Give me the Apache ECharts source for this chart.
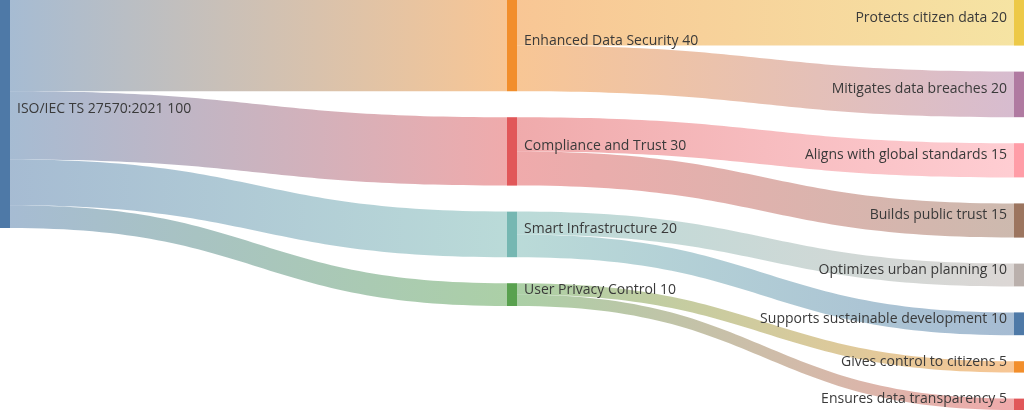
<!DOCTYPE html>
<html>
<head>
<meta charset="utf-8">
<script src="https://cdn.jsdelivr.net/npm/echarts@6/dist/echarts.min.js"></script>
<style>html,body{margin:0;padding:0;background:#fff;}#chart{width:1024px;height:410px;}</style>
</head>
<body>
<div id="chart"></div>
<script>
const nodeNames = [
  "ISO/IEC TS 27570:2021",
  "Enhanced Data Security",
  "Compliance and Trust",
  "Smart Infrastructure",
  "User Privacy Control",
  "Protects citizen data",
  "Mitigates data breaches",
  "Aligns with global standards",
  "Builds public trust",
  "Optimizes urban planning",
  "Supports sustainable development",
  "Gives control to citizens",
  "Ensures data transparency"
];
const nodeColors = ["#4e79a7","#f28e2b","#e15759","#76b7b2","#59a14f","#edc948","#b07aa1","#ff9da7","#9c755f","#bab0ac","#4e79a7","#f28e2b","#e15759"];
const linkSources = ["ISO/IEC TS 27570:2021","ISO/IEC TS 27570:2021","ISO/IEC TS 27570:2021","ISO/IEC TS 27570:2021",
  "Enhanced Data Security","Enhanced Data Security","Compliance and Trust","Compliance and Trust",
  "Smart Infrastructure","Smart Infrastructure","User Privacy Control","User Privacy Control"];
const linkTargets = ["Enhanced Data Security","Compliance and Trust","Smart Infrastructure","User Privacy Control",
  "Protects citizen data","Mitigates data breaches","Aligns with global standards","Builds public trust",
  "Optimizes urban planning","Supports sustainable development","Gives control to citizens","Ensures data transparency"];
const linkValues = [40,30,20,10,20,20,15,15,10,10,5,5];

const chart = echarts.init(document.getElementById('chart'));
chart.setOption({
  animation: false,
  series: [{
    type: 'sankey',
    left: 0, right: 0, top: 0, bottom: 0,
    nodeWidth: 10,
    nodeGap: 26,
    layoutIterations: 0,
    emphasis: {focus: 'adjacency'},
    data: nodeNames.map((n, i) => ({name: n, itemStyle: {color: nodeColors[i], borderWidth: 0}})),
    links: linkSources.map((s, i) => ({source: s, target: linkTargets[i], value: linkValues[i]})),
    label: {
      show: true,
      fontFamily: 'Open Sans',
      fontSize: 14,
      color: '#3a3a3a',
      distance: 7,
      offset: [0, -5],
      formatter: p => p.name + ' ' + p.value
    },
    levels: [
      {depth: 0},
      {depth: 1},
      {depth: 2, label: {position: 'left'}}
    ],
    lineStyle: {color: 'gradient', opacity: 0.5, curveness: 0.5}
  }]
});
</script>
</body>
</html>
